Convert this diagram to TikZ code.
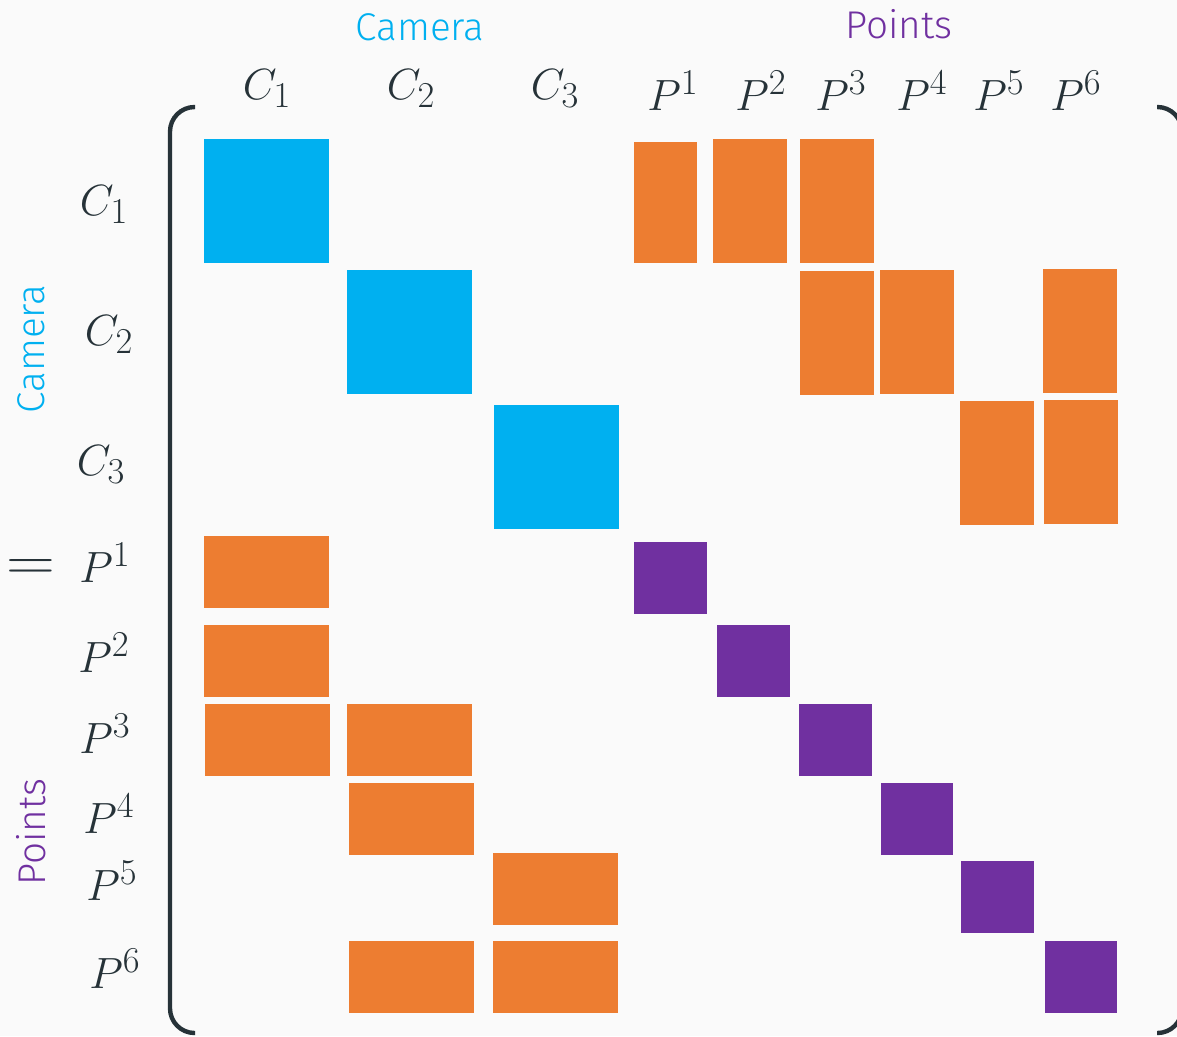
\documentclass[tikz,border=0pt]{standalone}
\usepackage{fontspec}
\usepackage{tikz}
\newfontfamily\lblfont{Fira Sans Light}
\definecolor{camblue}{HTML}{00B0F0}
\definecolor{obsorange}{HTML}{ED7D31}
\definecolor{ptpurple}{HTML}{7030A0}
\definecolor{ink}{HTML}{263238}
\definecolor{paper}{HTML}{FAFAFA}

\begin{document}
\begin{tikzpicture}[x=0.02cm,y=-0.02cm,
    cambox/.style={fill=camblue},
    obsbox/.style={fill=obsorange},
    ptbox/.style={fill=ptpurple},
    lbl/.style={text=ink,font=\fontsize{24.88}{30}\selectfont,anchor=base,inner sep=0pt},
    grp/.style={font=\lblfont\fontsize{22}{26}\selectfont,inner sep=0pt},
    brk/.style={draw=ink,line width=2.5pt,rounded corners=14pt}]
    \fill[paper] (0,0) rectangle (1177,1036);
    \clip (0,0) rectangle (1177,1036);

    % group titles
    \node[grp,text=camblue,anchor=base] (camtop) at (420,40) {Camera};
    \node[grp,text=ptpurple,anchor=base] (pttop) at (899,38) {Points};
    \node[grp,text=camblue,rotate=90] (camside) at (31,349) {Camera};
    \node[grp,text=ptpurple,rotate=90] (ptside) at (31,832) {Points};

    % column and row labels
    \foreach \x/\i in {267/1,411/2,555/3}
        \node[lbl] (ctop\i) at (\x,99) {$C_\i$};
    \foreach \x/\i in {673/1,761/2,841/3,922/4,999/5,1076/6}
        \node[lbl] (ptop\i) at (\x,110) {$P^\i$};
    \foreach \x/\y/\i in {104/215/1,109/345/2,101/475/3}
        \node[lbl] (cside\i) at (\x,\y) {$C_\i$};
    \foreach \x/\y/\i in {105/582/1,104/672/2,105/753/3,109/833/4,112/900/5,115/988/6}
        \node[lbl] (pside\i) at (\x,\y) {$P^\i$};
    \node[text=ink,font=\fontsize{24.88}{30}\selectfont,inner sep=0pt,xscale=1.55,yscale=1.35] (eq) at (31,570) {$=$};

    % brackets
    \draw[brk] (195,107) -- (170,107) -- (170,1033) -- (195,1033);
    \draw[brk] (1157,107) -- (1182,107) -- (1182,1033) -- (1157,1033);

    % camera blocks
    \fill[cambox] (204,139) rectangle (329,263);
    \fill[cambox] (347,270) rectangle (472,394);
    \fill[cambox] (494,405) rectangle (619,529);

    % point blocks
    \fill[ptbox] (634,542) rectangle (707,614);
    \fill[ptbox] (717,625) rectangle (790,697);
    \fill[ptbox] (799,704) rectangle (872,776);
    \fill[ptbox] (881,783) rectangle (953,855);
    \fill[ptbox] (961,861) rectangle (1034,933);
    \fill[ptbox] (1045,941) rectangle (1117,1013);

    % camera-point blocks, upper right
    \fill[obsbox] (634,142) rectangle (697,263);
    \fill[obsbox] (713,139) rectangle (787,263);
    \fill[obsbox] (800,139) rectangle (874,263);
    \fill[obsbox] (800,271) rectangle (874,395);
    \fill[obsbox] (880,270) rectangle (954,394);
    \fill[obsbox] (1043,269) rectangle (1117,393);
    \fill[obsbox] (960,401) rectangle (1034,525);
    \fill[obsbox] (1044,400) rectangle (1118,524);

    % point-camera blocks, lower left
    \fill[obsbox] (204,536) rectangle (329,608);
    \fill[obsbox] (204,625) rectangle (329,697);
    \fill[obsbox] (205,704) rectangle (330,776);
    \fill[obsbox] (347,704) rectangle (472,776);
    \fill[obsbox] (349,783) rectangle (474,855);
    \fill[obsbox] (493,853) rectangle (618,925);
    \fill[obsbox] (349,941) rectangle (474,1013);
    \fill[obsbox] (493,941) rectangle (618,1013);
\end{tikzpicture}
\end{document}
